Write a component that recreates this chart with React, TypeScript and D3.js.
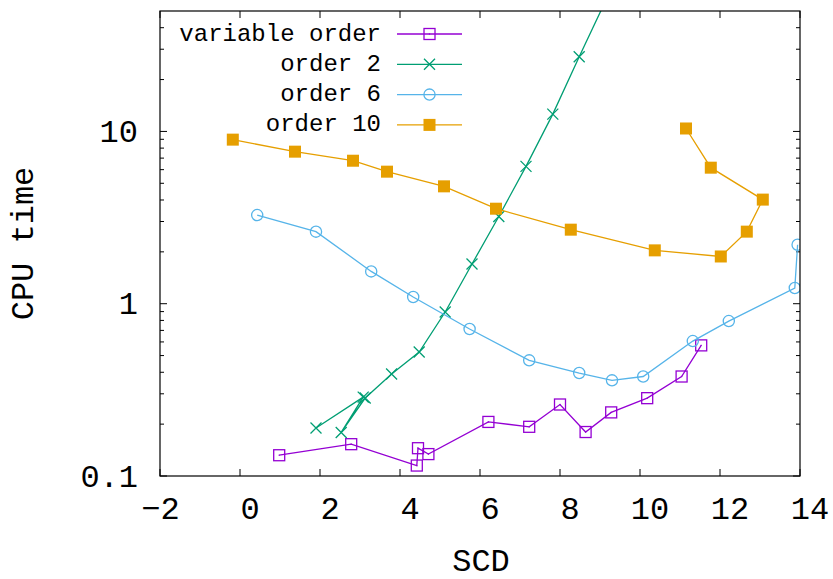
import React from "react";
import * as d3 from "d3";

const W = 833;
const H = 579;

const xTickValues = [-2, 0, 2, 4, 6, 8, 10, 12, 14];
const yMajorTicks = [0.1, 1, 10];
const yMajorLabels = ["0.1", "1", "10"];

const seriesNames = ["variable order", "order 2", "order 6", "order 10"];
const seriesColors = ["#9400d3", "#009e73", "#56b4e9", "#e69f00"];
const seriesMarkers = ["square", "cross", "circle", "filledSquare"];

const varOrderX = [0.98, 2.78, 4.42, 4.45, 4.71, 6.21, 7.23, 8.0, 8.64, 9.28, 10.18, 11.04, 11.53];
const varOrderY = [0.132, 0.153, 0.115, 0.145, 0.134, 0.206, 0.193, 0.26, 0.18, 0.234, 0.283, 0.378, 0.573];

const order2X = [1.9, 3.08, 2.53, 3.13, 3.79, 4.48, 5.13, 5.8, 6.47, 7.15, 7.82, 8.48, 9.15];
const order2Y = [0.19, 0.287, 0.179, 0.2835, 0.391, 0.524, 0.895, 1.7, 3.21, 6.27, 12.6, 27.1, 58];

const order6X = [0.43, 1.9, 3.28, 4.33, 5.74, 7.23, 8.48, 9.3, 10.08, 11.32, 12.22, 13.87, 13.94];
const order6Y = [3.27, 2.62, 1.54, 1.094, 0.713, 0.469, 0.396, 0.359, 0.378, 0.607, 0.793, 1.233, 2.2];

const order10X = [-0.18, 1.375, 2.825, 3.675, 5.1, 6.4, 8.27, 10.37, 12.02, 12.67, 13.07, 11.77, 11.15];
const order10Y = [8.96, 7.63, 6.76, 5.84, 4.8, 3.56, 2.69, 2.04, 1.88, 2.62, 4.02, 6.16, 10.4];

const seriesX = [varOrderX, order2X, order6X, order10X];
const seriesY = [varOrderY, order2Y, order6Y, order10Y];

const FONT = "'Liberation Mono', 'Courier New', monospace";

const L = 160, R = 800, T = 11, B = 476;

function Marker({ kind, x, y, color }: { kind: string; x: number; y: number; color: string }) {
  if (kind === "square") {
    return (
      <g>
        <rect x={x - 5.5} y={y - 5.5} width={11} height={11} fill="none" stroke={color} strokeWidth={1.3} />
        <rect x={x - 0.6} y={y - 0.6} width={1.2} height={1.2} fill={color} />
      </g>
    );
  }
  if (kind === "cross") {
    const s = 5.5;
    return (
      <path d={`M${x - s},${y - s}L${x + s},${y + s}M${x - s},${y + s}L${x + s},${y - s}`} stroke={color} strokeWidth={1.3} fill="none" />
    );
  }
  if (kind === "circle") {
    return <circle cx={x} cy={y} r={5.6} fill="none" stroke={color} strokeWidth={1.3} />;
  }
  return <rect x={x - 6} y={y - 6} width={12} height={12} fill={color} />;
}

export default function App() {
  const x = d3.scaleLinear().domain([-2, 14]).range([L, R]);
  const y = d3.scaleLog().domain([0.1, 50]).range([B, T]);

  const minor: number[] = [];
  [0.1, 1, 10].forEach((d) => {
    for (let k = 2; k <= 9; k++) {
      const v = d * k;
      if (v < 50) minor.push(v);
    }
  });

  const line = d3
    .line<[number, number]>()
    .x((d) => x(d[0]))
    .y((d) => y(d[1]));

  const fmt = (v: number) => (v < 0 ? "\u2212" + Math.abs(v) : String(v));

  return (
    <svg width={W} height={H} style={{ position: "absolute", left: 0, top: 0, background: "#fff" }}>
      <defs>
        <clipPath id="plotclip">
          <rect x={L} y={T} width={R - L} height={B - T} />
        </clipPath>
      </defs>
      <rect x={0} y={0} width={W} height={H} fill="#fff" />

      {/* ticks */}
      <g stroke="#000" strokeWidth={1}>
        {xTickValues.map((v) => (
          <g key={"xt" + v}>
            <line x1={x(v)} x2={x(v)} y1={B} y2={B - 7} />
            <line x1={x(v)} x2={x(v)} y1={T} y2={T + 7} />
          </g>
        ))}
        {yMajorTicks.map((v) => (
          <g key={"yt" + v}>
            <line x1={L} x2={L + 7} y1={y(v)} y2={y(v)} />
            <line x1={R} x2={R - 7} y1={y(v)} y2={y(v)} />
          </g>
        ))}
        {minor.map((v) => (
          <g key={"ym" + v}>
            <line x1={L} x2={L + 4} y1={y(v)} y2={y(v)} />
            <line x1={R} x2={R - 4} y1={y(v)} y2={y(v)} />
          </g>
        ))}
      </g>

      {/* tick labels */}
      <g fontFamily={FONT} fontSize={32} fill="#000">
        {xTickValues.map((v) => (
          <text key={"xl" + v} x={x(v) + 10 + (String(Math.abs(v)).length * 19.2) / 2} y={510} textAnchor="end" dominantBaseline="central">
            {fmt(v)}
          </text>
        ))}
        {yMajorTicks.map((v, i) => (
          <text key={"yl" + v} x={138} y={y(v) + 2} textAnchor="end" dominantBaseline="central">
            {yMajorLabels[i]}
          </text>
        ))}
        <text x={481} y={562} textAnchor="middle" dominantBaseline="central">SCD</text>
        <text transform={`translate(24,243.5) rotate(-90)`} textAnchor="middle" dominantBaseline="central">CPU time</text>
      </g>

      {/* series */}
      <g clipPath="url(#plotclip)">
        {seriesX.map((xs, si) => {
          const pts = xs.map((xv, i) => [xv, seriesY[si][i]] as [number, number]);
          return (
            <g key={"s" + si}>
              <path d={line(pts) || ""} fill="none" stroke={seriesColors[si]} strokeWidth={1.3} />
              {pts.map((p, i) => (
                <Marker key={i} kind={seriesMarkers[si]} x={x(p[0])} y={y(p[1])} color={seriesColors[si]} />
              ))}
            </g>
          );
        })}
      </g>

      {/* legend */}
      <g fontFamily={FONT} fontSize={24} fill="#000">
        {seriesNames.map((name, i) => {
          const ly = 34 + i * 30.3;
          return (
            <g key={"lg" + i}>
              <text x={381} y={ly} textAnchor="end" dominantBaseline="central">{name}</text>
              <line x1={397} x2={462} y1={ly} y2={ly} stroke={seriesColors[i]} strokeWidth={1.3} />
              <Marker kind={seriesMarkers[i]} x={429.5} y={ly} color={seriesColors[i]} />
            </g>
          );
        })}
      </g>

      {/* frame */}
      <rect x={L} y={T} width={R - L} height={B - T} fill="none" stroke="#000" strokeWidth={1.2} />
    </svg>
  );
}
